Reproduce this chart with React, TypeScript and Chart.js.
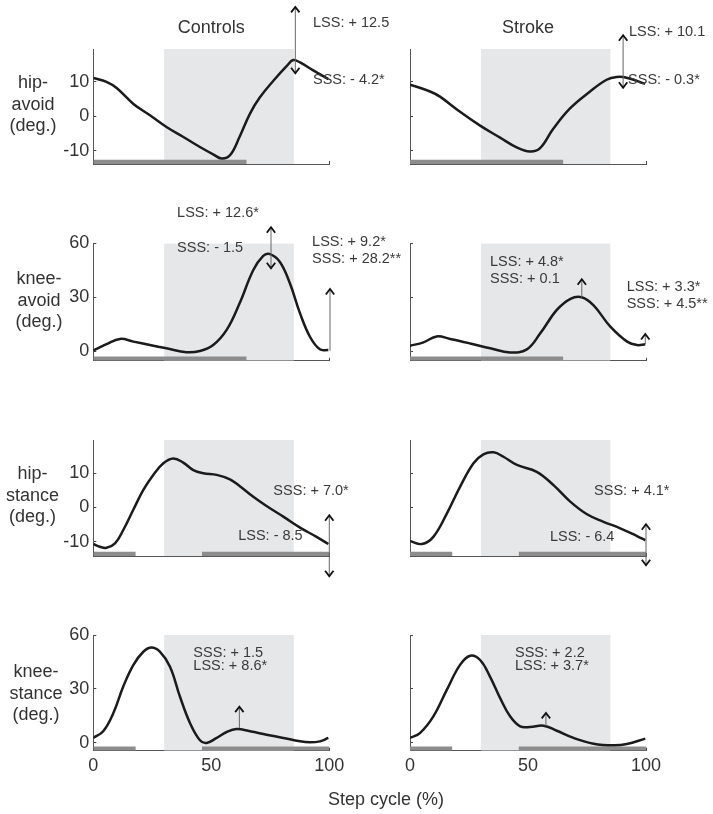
import React, { useEffect, useRef } from 'react';
import { Chart, registerables } from 'chart.js';
Chart.register(...registerables);

const W = 713;
const H = 814;
const FONT = '"Liberation Sans", Arial, Helvetica, sans-serif';

// ---------- data (x = step cycle %, y = degrees) ----------
const hipAvoidCtrlX = [0, 5.6, 9.9, 17, 24, 31, 38, 45, 50.8, 54.4, 58, 62, 66.4, 70.6, 76.3, 82, 84.7, 87.6, 93, 99.6];
const hipAvoidCtrlY = [11.1, 10.0, 8.2, 3.6, 0.3, -3.1, -5.9, -8.8, -11, -12.2, -11.2, -5.9, 0.8, 5.5, 10.3, 14.6, 16.3, 15.6, 13.4, 10.8];
const hipAvoidStrokeX = [0, 8.5, 12.7, 21.2, 29.7, 38, 45.2, 50.8, 55, 60.7, 67.8, 76.3, 83.3, 87.6, 91.8, 99.6];
const hipAvoidStrokeY = [9.2, 7.2, 5.7, 1.3, -2.7, -6.1, -9, -10.2, -9.3, -3.6, 2.3, 7.2, 10.6, 11.4, 11.2, 9.4];

const kneeAvoidCtrlX = [0, 5.6, 11.3, 17, 24, 31, 39.5, 45.2, 50.8, 56.5, 62, 67.8, 72, 74.6, 79, 83.3, 87.6, 91.8, 96, 99.6];
const kneeAvoidCtrlY = [0.4, 4, 6.9, 5.4, 3.5, 1.7, -0.5, 0.2, 3.5, 11.9, 26.7, 45.2, 53, 54.1, 49.8, 37.8, 21.1, 8.1, 1.1, 0.7];
const kneeAvoidStrokeX = [0, 5.7, 11.3, 17, 25.5, 34, 42.4, 49.5, 55.2, 62.2, 68, 72.8, 77.8, 84.9, 92, 96.2, 99.7];
const kneeAvoidStrokeY = [3.1, 5.0, 8.3, 6.9, 4.4, 1.7, -0.6, 1.1, 10, 23, 29.2, 30, 25.5, 13.7, 5.4, 3.5, 3.9];

const hipStanceCtrlX = [0, 2.8, 5.6, 9.2, 12.7, 17, 21.2, 25.4, 29.7, 33.9, 38.1, 42.4, 46.6, 52.3, 57.9, 62.1, 67.8, 73.4, 80.5, 87.6, 94.6, 99.6];
const hipStanceCtrlY = [-10.7, -11.5, -11.8, -10.5, -6.6, -0.6, 5.1, 9.5, 12.9, 14.3, 13.1, 10.9, 10, 9.5, 8.2, 6.2, 3.1, 0.4, -2.7, -5.9, -8.6, -10.7];
const hipStanceStrokeX = [0, 5, 9.9, 15.6, 21.2, 26.9, 31.1, 35.4, 39.6, 45.3, 53.7, 60.8, 67.9, 75, 82, 89.1, 96.2, 99.7];
const hipStanceStrokeY = [-9.8, -10.7, -8.6, -1.8, 6, 12.9, 15.5, 16.1, 14.8, 12.4, 10.4, 6.5, 1.7, -2, -4.2, -6.1, -8.4, -9.6];

const kneeStanceCtrlX = [0, 4.2, 8.5, 12.7, 17, 21.2, 24.7, 28.2, 32.5, 36.7, 41, 45.2, 48, 52.3, 56.5, 60.7, 66.4, 73.4, 80.5, 87.6, 91.8, 96, 99.6];
const kneeStanceCtrlY = [2.8, 6.5, 16.6, 31.4, 43.4, 50.7, 53, 50.7, 42.4, 25.8, 11, 1.5, 0, 2.8, 6.1, 7.7, 6.5, 4.6, 2.8, 0.9, 0.4, 0.9, 2.8];
const kneeStanceStrokeX = [0, 4.2, 9.9, 15.6, 21.2, 25.5, 29.7, 33.9, 38.2, 42.4, 46.7, 50.9, 56.6, 62.2, 69.3, 77.8, 86.3, 91.9, 99.7];
const kneeStanceStrokeY = [2.8, 5.5, 14.8, 29.5, 43.4, 48.5, 46.1, 36.9, 24.9, 14.8, 9.2, 8.9, 9.6, 6.8, 2.8, -0.4, -1.3, -0.6, 2.4];

// shaded window (% step cycle)
const shadeRange = [30, 85];
// gray bars along the x axis (% step cycle)
const avoidBars = [[0, 65]];
const stanceBars = [[0, 18], [46, 100]];

// ticks
const xTickValues = [0, 50, 100];
const xTickLabels = ['0', '50', '100'];
const hipTicks = [-10, 0, 10];
const kneeTicks = [0, 30, 60];

const columnTitles = ['Controls', 'Stroke'];
const rowLabels = [
  ['hip-', 'avoid', '(deg.)'],
  ['knee-', 'avoid', '(deg.)'],
  ['hip-', 'stance', '(deg.)'],
  ['knee-', 'stance', '(deg.)'],
];
const xAxisTitle = 'Step cycle (%)';

// arrows: [x, from, to, doubleHeaded]
const arrowsHipAvoidCtrl = [[85.6, 12.5, 31.7, 1]];
const arrowsHipAvoidStroke = [[90.3, 8.3, 23.5, 1]];
const arrowsKneeAvoidCtrl = [[75.3, 46.1, 68.9, 1], [100.3, 0.4, 34.6, 0]];
const arrowsKneeAvoidStroke = [[72.8, 30, 40, 0], [99.7, 3.9, 9.6, 0]];
const arrowsHipStanceCtrl = [[100, -20.1, -2.3, 1]];
const arrowsHipStanceStroke = [[100, -16.9, -4.9, 1]];
const arrowsKneeStanceCtrl = [[61.9, 8.3, 20.2, 0]];
const arrowsKneeStanceStroke = [[57.6, 9.6, 16.7, 0]];

// notes: [x, y, text]
const notesHipAvoidCtrl = [[93.1, 27.0, 'LSS: + 12.5'], [93.1, 10.4, 'SSS: - 4.2*']];
const notesHipAvoidStroke = [[92.8, 24.3, 'LSS: + 10.1'], [92.4, 10.4, 'SSS: - 0.3*']];
const notesKneeAvoidCtrl = [[35.5, 76.8, 'LSS: + 12.6*'], [35.5, 57.4, 'SSS: - 1.5'], [92.7, 60.9, 'LSS: + 9.2*'], [92.7, 51.3, 'SSS: + 28.2**']];
const notesKneeAvoidStroke = [[33.9, 49.8, 'LSS: + 4.8*'], [33.9, 40, 'SSS: + 0.1'], [91.8, 35.9, 'LSS: + 3.3*'], [91.8, 26.3, 'SSS: + 4.5**']];
const notesHipStanceCtrl = [[76.3, 4.9, 'SSS: + 7.0*'], [61.4, -8.4, 'LSS: - 8.5']];
const notesHipStanceStroke = [[78, 4.9, 'SSS: + 4.1*'], [59.3, -8.6, 'LSS: - 6.4']];
const notesKneeStanceCtrl = [[42.4, 50, 'SSS: + 1.5'], [42.4, 42.9, 'LSS: + 8.6*']];
const notesKneeStanceStroke = [[44.5, 50, 'SSS: + 2.2'], [44.5, 42.9, 'LSS: + 3.7*']];

// ---------- layout ----------
const ROWS = [
  { top: 49, bottom: 164, min: -13.8, max: 19.5, ticks: hipTicks, labelX: 33, labelY: 105 },
  { top: 243.3, bottom: 360.7, min: -5.2, max: 60, ticks: kneeTicks, labelX: 39, labelY: 301 },
  { top: 440, bottom: 556, min: -14.2, max: 19.7, ticks: hipTicks, labelX: 32.5, labelY: 496 },
  { top: 635, bottom: 750.7, min: -4.3, max: 60, ticks: kneeTicks, labelX: 36, labelY: 694 },
];
const COLS = [
  { left: 93.3, right: 329.3 },
  { left: 410, right: 646 },
];
const YW = 60;
const XH = 40;

const PANELS = [
  { row: 0, col: 0, xs: hipAvoidCtrlX, ys: hipAvoidCtrlY, bars: avoidBars, arrows: arrowsHipAvoidCtrl, notes: notesHipAvoidCtrl },
  { row: 0, col: 1, xs: hipAvoidStrokeX, ys: hipAvoidStrokeY, bars: avoidBars, arrows: arrowsHipAvoidStroke, notes: notesHipAvoidStroke },
  { row: 1, col: 0, xs: kneeAvoidCtrlX, ys: kneeAvoidCtrlY, bars: avoidBars, arrows: arrowsKneeAvoidCtrl, notes: notesKneeAvoidCtrl },
  { row: 1, col: 1, xs: kneeAvoidStrokeX, ys: kneeAvoidStrokeY, bars: avoidBars, arrows: arrowsKneeAvoidStroke, notes: notesKneeAvoidStroke },
  { row: 2, col: 0, xs: hipStanceCtrlX, ys: hipStanceCtrlY, bars: stanceBars, arrows: arrowsHipStanceCtrl, notes: notesHipStanceCtrl },
  { row: 2, col: 1, xs: hipStanceStrokeX, ys: hipStanceStrokeY, bars: stanceBars, arrows: arrowsHipStanceStroke, notes: notesHipStanceStroke },
  { row: 3, col: 0, xs: kneeStanceCtrlX, ys: kneeStanceCtrlY, bars: stanceBars, arrows: arrowsKneeStanceCtrl, notes: notesKneeStanceCtrl },
  { row: 3, col: 1, xs: kneeStanceStrokeX, ys: kneeStanceStrokeY, bars: stanceBars, arrows: arrowsKneeStanceStroke, notes: notesKneeStanceStroke },
];

function drawHead(ctx, px, py, dir) {
  // dir = -1 : pointing up (tip at py), +1 : pointing down
  const w = 4.2;
  const h = 5.5;
  ctx.beginPath();
  ctx.moveTo(px - w, py - dir * h);
  ctx.lineTo(px, py);
  ctx.lineTo(px + w, py - dir * h);
  ctx.stroke();
}

function makePlugin(p) {
  const r = ROWS[p.row];
  return {
    id: 'annot',
    afterDatasetsDraw(chart) {
      const { ctx } = chart;
      const xs = chart.scales.x;
      const ys = chart.scales.y;
      ctx.save();
      for (const a of p.arrows) {
        const px = xs.getPixelForValue(a[0]);
        const y0 = ys.getPixelForValue(a[1]);
        const y1 = ys.getPixelForValue(a[2]);
        ctx.strokeStyle = '#666';
        ctx.lineWidth = 1;
        ctx.beginPath();
        ctx.moveTo(px, y0);
        ctx.lineTo(px, y1);
        ctx.stroke();
        ctx.strokeStyle = '#111';
        ctx.lineWidth = 1.8;
        ctx.lineJoin = 'miter';
        const dir = y1 < y0 ? -1 : 1;
        drawHead(ctx, px, y1, dir);
        if (a[3]) drawHead(ctx, px, y0, -dir);
      }
      ctx.restore();
    },
    afterDraw(chart) {
      const { ctx } = chart;
      const xs = chart.scales.x;
      const ys = chart.scales.y;
      ctx.save();
      ctx.fillStyle = '#3a3a3a';
      ctx.textBaseline = 'middle';
      ctx.textAlign = 'left';
      ctx.font = `14.5px ${FONT}`;
      for (const n of p.notes) {
        ctx.fillText(n[2], xs.getPixelForValue(n[0]), ys.getPixelForValue(n[1]));
      }
      ctx.font = `18px ${FONT}`;
      ctx.fillStyle = '#333';
      ctx.textAlign = 'center';
      if (p.col === 0) {
        const lines = rowLabels[p.row];
        lines.forEach((t, i) => {
          ctx.fillText(t, r.labelX, r.labelY + (i - 1) * 21.5);
        });
      }
      if (p.row === 0) {
        ctx.fillText(columnTitles[p.col], xs.getPixelForValue(50), chart.chartArea.top - 21);
      }
      if (p.row === 3 && p.col === 0) {
        ctx.fillText(xAxisTitle, 386, 800);
      }
      ctx.restore();
    },
  };
}

function Panel({ p }) {
  const ref = useRef(null);
  useEffect(() => {
    const r = ROWS[p.row];
    const c = COLS[p.col];
    const barTop = r.min + (r.max - r.min) * 0.036;
    const datasets = [
      {
        data: p.xs.map((x, i) => ({ x, y: p.ys[i] })),
        borderColor: '#1b1b1b',
        borderWidth: 2.5,
        pointRadius: 0,
        tension: 0.4,
        fill: false,
        order: 0,
      },
      ...p.bars.map((b) => ({
        data: [{ x: b[0], y: barTop }, { x: b[1], y: barTop }],
        borderWidth: 0,
        borderColor: 'rgba(0,0,0,0)',
        backgroundColor: '#8d8d8d',
        fill: 'start',
        pointRadius: 0,
        tension: 0,
        order: 1,
      })),
      {
        data: [{ x: shadeRange[0], y: r.max }, { x: shadeRange[1], y: r.max }],
        borderWidth: 0,
        borderColor: 'rgba(0,0,0,0)',
        backgroundColor: '#e6e7e9',
        fill: 'start',
        pointRadius: 0,
        tension: 0,
        order: 2,
      },
    ];
    const gridCfg = {
      drawOnChartArea: false,
      drawTicks: true,
      tickLength: -3,
      tickColor: '#444',
      tickWidth: 1,
    };
    const chart = new Chart(ref.current, {
      type: 'line',
      data: { datasets },
      options: {
        responsive: false,
        animation: false,
        events: [],
        layout: {
          padding: {
            left: c.left - YW,
            right: W - c.right,
            top: r.top,
            bottom: H - r.bottom - XH,
          },
        },
        plugins: {
          legend: { display: false },
          tooltip: { enabled: false },
          title: { display: false },
        },
        scales: {
          x: {
            type: 'linear',
            min: 0,
            max: 100,
            afterBuildTicks: (s) => {
              s.ticks = xTickValues.map((v) => ({ value: v }));
            },
            afterFit: (s) => {
              s.height = XH;
            },
            ticks: {
              display: p.row === 3,
              color: '#333',
              font: { size: 18, family: FONT },
              padding: 8,
              maxRotation: 0,
              callback: (v) => {
                const i = xTickValues.indexOf(Number(v));
                return i >= 0 ? xTickLabels[i] : '';
              },
            },
            grid: gridCfg,
            border: { display: true, color: '#555', width: 1 },
          },
          y: {
            type: 'linear',
            min: r.min,
            max: r.max,
            afterBuildTicks: (s) => {
              s.ticks = r.ticks.map((v) => ({ value: v }));
            },
            afterFit: (s) => {
              s.width = YW;
            },
            ticks: {
              display: p.col === 0,
              color: '#333',
              font: { size: 18, family: FONT },
              padding: 7,
              callback: (v) => String(v),
            },
            grid: gridCfg,
            border: { display: true, color: '#555', width: 1 },
          },
        },
      },
      plugins: [makePlugin(p)],
    });
    return () => chart.destroy();
  }, [p]);
  return (
    <canvas
      ref={ref}
      width={W}
      height={H}
      style={{ position: 'absolute', left: 0, top: 0, width: W, height: H }}
    />
  );
}

export default function App() {
  return (
    <div style={{ position: 'absolute', left: 0, top: 0, width: W, height: H, background: '#fff', overflow: 'hidden' }}>
      {PANELS.map((p, i) => (
        <Panel key={i} p={p} />
      ))}
    </div>
  );
}
